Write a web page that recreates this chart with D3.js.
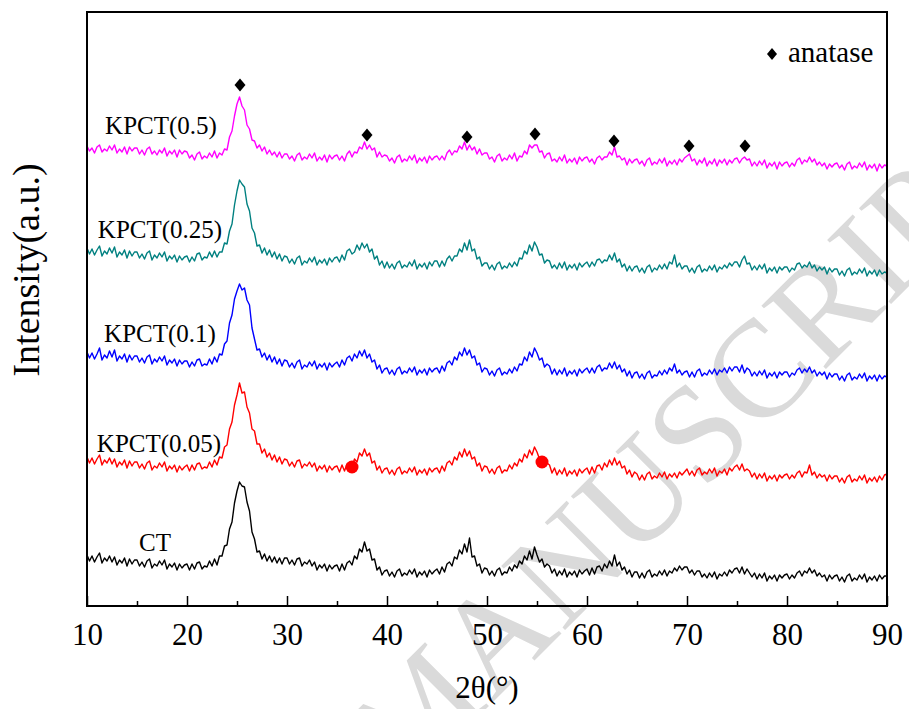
<!DOCTYPE html>
<html>
<head>
<meta charset="utf-8">
<script src="https://cdn.jsdelivr.net/npm/d3@7"></script>
<style>
  body { margin: 0; background: #fff; }
  svg { display: block; }
</style>
</head>
<body>
<svg id="chart" width="909" height="709"></svg>
<script>
// XRD patterns: intensity (a.u., stacked) sampled every 0.25 deg from 10 to 90 deg 2-theta
const twoThetaStart = 10;
const twoThetaStep = 0.25;

const ct = [
  51,45,50,44,49,53,43,48,45,50,44,49,41,46,43,48,40,47,42,46,
  46,40,44,39,45,47,38,42,40,45,41,46,37,42,39,43,36,42,38,41,
  42,36,42,37,43,44,37,40,39,45,40,47,41,50,50,60,61,77,84,103,
  115,124,120,119,104,95,74,67,54,55,47,52,45,50,44,49,43,48,42,48,
  48,42,46,41,47,48,40,44,42,46,40,44,36,41,38,42,35,41,37,40,
  41,35,42,36,43,45,41,50,47,57,54,64,55,57,46,47,36,39,31,35,
  36,30,34,29,35,37,30,33,31,36,32,37,29,34,31,35,29,36,32,35,
  37,32,39,34,42,44,40,49,47,56,52,62,54,68,49,50,40,42,33,38,
  37,31,35,30,36,38,31,34,33,39,35,41,38,45,42,50,46,55,47,59,
  51,44,47,39,42,40,33,37,30,35,31,37,29,34,31,35,29,36,32,35,
  37,31,38,32,39,40,35,42,38,45,40,51,40,44,36,39,32,36,29,34,
  34,28,33,28,34,36,29,32,30,35,31,36,30,35,33,38,35,40,36,39,
  39,33,36,31,35,35,29,32,28,33,29,34,27,32,30,34,30,36,33,37,
  38,33,39,32,37,33,29,33,27,32,28,33,25,30,27,31,25,31,28,31,
  32,27,31,28,33,35,30,35,33,38,33,36,30,33,29,31,25,31,27,30,
  31,25,29,24,30,32,25,28,26,31,27,32,24,29,26,30,25,31,27,30,
  30
];

const kpct005 = [
  149,143,148,142,147,151,141,146,143,148,142,147,139,144,141,146,138,145,140,144,
  144,138,142,137,143,145,136,140,138,143,139,144,135,140,137,141,134,140,136,139,
  141,135,141,136,142,143,137,139,138,144,139,146,141,149,148,159,161,177,184,201,
  211,223,213,214,199,193,177,175,162,162,153,157,149,153,146,151,144,149,142,147,
  146,140,144,139,145,146,138,142,140,144,139,143,135,140,137,141,134,140,136,139,
  140,134,141,135,142,143,139,147,144,153,150,157,150,153,143,145,136,140,133,137,
  138,132,136,131,137,139,132,135,133,138,134,139,131,136,133,137,131,138,134,137,
  138,133,140,135,143,145,141,149,146,154,149,157,150,155,147,149,140,143,135,140,
  139,133,137,132,138,140,133,136,135,141,137,143,140,147,144,152,148,156,151,159,
  154,147,149,140,143,141,133,138,131,136,132,138,130,135,132,136,130,137,133,136,
  138,132,139,133,140,141,136,143,139,146,141,148,141,145,138,140,132,136,129,134,
  132,126,131,126,132,134,127,130,128,133,129,134,127,132,129,133,128,134,131,134,
  137,131,135,130,136,138,131,134,132,137,133,138,130,135,133,137,131,138,135,139,
  141,136,142,135,137,135,129,133,127,132,128,133,125,130,127,131,125,131,128,131,
  132,127,131,128,133,135,129,134,133,141,131,134,128,132,129,131,125,131,127,130,
  130,124,128,123,129,131,124,127,125,130,126,131,123,128,125,129,124,130,126,131,
  132
];

const kpct01 = [
  254,248,253,247,252,258,246,251,248,255,249,256,245,250,247,252,244,251,246,250,
  250,244,248,243,249,251,242,247,244,249,245,250,241,246,243,247,240,246,242,245,
  245,239,244,240,246,247,240,242,241,247,242,249,244,252,251,262,265,283,291,307,
  315,322,316,318,306,301,278,267,256,257,249,253,246,251,244,249,242,247,240,246,
  245,239,243,238,244,246,237,241,239,244,240,245,237,242,239,243,236,243,239,242,
  244,239,246,241,248,250,245,252,248,255,250,256,248,252,244,246,237,241,233,237,
  238,232,236,231,237,239,232,235,233,238,234,239,231,236,233,237,231,238,234,237,
  238,233,240,235,243,245,241,249,246,254,250,258,251,256,248,250,241,243,234,238,
  237,231,235,230,236,238,231,234,232,237,233,239,235,242,241,249,245,254,249,258,
  253,246,248,239,242,240,232,237,231,236,232,238,230,235,232,236,230,237,233,236,
  238,233,238,233,239,241,235,238,237,243,238,244,237,241,234,237,230,235,228,233,
  234,228,232,227,233,235,228,231,230,235,231,236,232,238,235,242,233,236,231,234,
  235,229,234,229,235,237,230,233,231,236,232,237,231,236,234,238,233,239,235,239,
  239,234,241,233,238,236,230,234,230,235,231,236,228,233,230,234,228,234,231,234,
  234,229,233,231,236,238,233,237,234,239,233,236,230,234,231,234,227,233,229,232,
  232,226,230,225,231,233,226,229,227,232,228,233,225,230,227,231,225,231,227,230,
  229
];

const kpct025 = [
  358,352,357,351,356,360,350,355,352,358,353,359,349,354,351,356,348,355,350,354,
  354,348,352,347,353,355,346,351,348,353,349,354,345,350,347,351,344,350,346,349,
  350,344,349,345,352,353,346,349,348,354,349,355,349,354,354,363,362,375,382,401,
  415,426,422,419,402,395,378,373,360,361,353,358,351,356,349,354,347,352,345,350,
  349,343,347,342,348,350,341,345,343,348,344,349,341,346,343,347,341,348,344,348,
  349,344,351,346,355,357,352,354,361,356,363,358,362,354,357,347,350,341,345,338,
  344,338,342,337,343,345,338,341,339,344,340,346,337,342,339,343,337,344,340,345,
  345,339,345,340,347,350,345,350,350,357,354,363,356,366,355,357,347,349,340,343,
  343,337,341,336,342,344,337,340,338,343,339,344,340,348,347,355,352,361,355,364,
  359,351,352,343,346,345,338,341,337,343,338,344,336,341,338,342,336,343,339,342,
  344,339,344,340,346,347,343,346,345,351,346,353,344,347,339,342,335,340,335,339,
  340,334,338,333,339,341,334,338,336,341,337,342,337,344,342,351,339,343,337,340,
  340,334,338,333,339,341,334,337,335,340,336,341,334,339,337,341,338,343,340,344,
  344,339,346,350,342,343,336,340,336,341,337,342,333,338,335,339,333,339,336,339,
  339,334,338,336,342,343,338,341,339,344,338,341,335,339,336,339,332,338,334,337,
  337,331,335,330,336,338,331,334,332,337,333,338,330,335,332,336,330,336,332,334,
  333
];

const kpct05 = [
  460,455,458,453,459,461,454,457,455,460,456,461,453,457,454,459,452,459,455,458,
  458,452,456,451,457,459,452,455,451,456,453,458,450,455,452,456,449,456,452,455,
  454,448,451,446,452,454,447,450,448,453,449,455,448,453,451,457,456,469,475,490,
  502,509,500,496,481,477,466,465,458,461,455,459,452,456,451,454,449,454,448,452,
  452,447,450,445,451,453,446,449,447,452,448,453,445,449,446,451,444,451,447,450,
  451,446,450,445,452,455,449,454,453,459,457,464,457,461,456,458,449,454,449,451,
  450,445,448,443,449,451,444,447,445,450,446,451,443,448,445,449,443,450,446,449,
  450,446,450,446,453,456,451,455,454,460,457,464,456,461,456,459,452,457,451,453,
  453,447,449,444,450,452,445,448,446,451,447,453,445,450,449,455,452,461,458,461,
  461,454,455,448,452,453,445,447,444,449,445,451,443,447,444,448,442,449,445,448,
  449,444,447,442,448,450,446,449,449,454,451,459,449,450,446,448,441,447,443,446,
  447,442,445,440,446,448,441,444,442,447,443,448,440,445,442,446,441,447,444,448,
  450,452,445,447,441,446,443,448,440,445,442,447,440,446,443,447,441,446,443,447,
  448,443,447,449,446,447,440,444,440,445,441,446,438,443,440,444,437,444,440,443,
  444,439,443,440,446,448,442,446,444,449,444,447,441,444,440,443,437,442,439,442,
  443,438,441,436,442,444,437,440,438,443,439,444,436,441,438,442,435,442,438,441,
  440
];

const seriesNames = ["CT", "KPCT(0.05)", "KPCT(0.1)", "KPCT(0.25)", "KPCT(0.5)"];
const seriesValues = [ct, kpct005, kpct01, kpct025, kpct05];
const seriesColors = ["#000000", "#ff0000", "#0000ff", "#008080", "#ff00ff"];

const xTicks = [10, 20, 30, 40, 50, 60, 70, 80, 90];
const xMinorTicks = [15, 25, 35, 45, 55, 65, 75, 85];

// anatase reflections marked above the KPCT(0.5) pattern
const anataseAngles = [25.3, 38.0, 48.0, 54.8, 62.7, 70.2, 75.8];
const anataseLevels = [521, 471, 469, 472, 465, 460, 460];

// filled circles marked on the KPCT(0.05) pattern
const dotAngles = [36.5, 55.5];
const dotLevels = [139, 144];

const FONT = "'Liberation Serif', 'Times New Roman', Times, serif";

const svg = d3.select("#chart");
const plot = { left: 87, right: 887, top: 12, bottom: 606 };

const x = d3.scaleLinear().domain([10, 90]).range([plot.left, plot.right]);
const y = d3.scaleLinear().domain([0, 594]).range([plot.bottom, plot.top]);

// diagonal watermark
const wm = svg.append("text")
  .attr("font-family", FONT)
  .attr("font-size", 138)
  .attr("fill", "#dadada")
  .text("ACCEPTED MANUSCRIPT");
const prefix = wm.node().getSubStringLength(0, 9);
wm.attr("x", -prefix).attr("transform", "translate(405,790) rotate(-45)");

// patterns
const line = d3.line()
  .x((d, i) => x(twoThetaStart + i * twoThetaStep))
  .y(d => y(d));

svg.append("g")
  .selectAll("path")
  .data(seriesValues)
  .join("path")
  .attr("d", d => line(d))
  .attr("fill", "none")
  .attr("stroke", (d, i) => seriesColors[i])
  .attr("stroke-width", 1.4)
  .attr("stroke-linejoin", "round");

// circle markers
svg.append("g")
  .selectAll("circle")
  .data(dotAngles)
  .join("circle")
  .attr("cx", d => x(d))
  .attr("cy", (d, i) => y(dotLevels[i]))
  .attr("r", 6.5)
  .attr("fill", "#ff0000");

// diamond markers
const diamond = "M0,-6.5L5.5,0L0,6.5L-5.5,0Z";
svg.append("g")
  .selectAll("path")
  .data(anataseAngles)
  .join("path")
  .attr("transform", (d, i) => `translate(${x(d)},${y(anataseLevels[i])})`)
  .attr("d", diamond)
  .attr("fill", "#000");

// series labels
const labelPos = [[155, 551], [159, 452], [160, 342], [160, 238], [161, 134]];
svg.append("g")
  .selectAll("text")
  .data(seriesNames)
  .join("text")
  .attr("x", (d, i) => labelPos[i][0])
  .attr("y", (d, i) => labelPos[i][1])
  .attr("text-anchor", "middle")
  .attr("font-family", FONT)
  .attr("font-size", 25)
  .attr("fill", "#000")
  .text(d => d);

// legend
const legend = svg.append("g").attr("transform", "translate(772,54)");
legend.append("path").attr("d", "M0,-6L5,0L0,6L-5,0Z").attr("fill", "#000");
legend.append("text")
  .attr("x", 16).attr("y", 8)
  .attr("font-family", FONT)
  .attr("font-size", 29)
  .text("anatase");

// x axis: ticks point inward
const xAxis = svg.append("g")
  .attr("transform", `translate(0,${plot.bottom})`)
  .call(d3.axisBottom(x).tickValues(xTicks).tickSize(-10).tickPadding(17).tickFormat(d3.format("d")));
xAxis.select(".domain").remove();
xAxis.selectAll("line").attr("stroke", "#000").attr("stroke-width", 1.5);
xAxis.selectAll("text")
  .attr("font-family", FONT)
  .attr("font-size", 31)
  .attr("fill", "#000");

const xMinor = svg.append("g")
  .attr("transform", `translate(0,${plot.bottom})`)
  .call(d3.axisBottom(x).tickValues(xMinorTicks).tickSize(-5).tickFormat(""));
xMinor.select(".domain").remove();
xMinor.selectAll("line").attr("stroke", "#000").attr("stroke-width", 1.5);

// frame
svg.append("rect")
  .attr("x", plot.left).attr("y", plot.top)
  .attr("width", plot.right - plot.left).attr("height", plot.bottom - plot.top)
  .attr("fill", "none").attr("stroke", "#000").attr("stroke-width", 2);

// axis titles
svg.append("text")
  .attr("x", (plot.left + plot.right) / 2).attr("y", 698)
  .attr("text-anchor", "middle")
  .attr("font-family", FONT)
  .attr("font-size", 31)
  .text("2θ(°)");

svg.append("text")
  .attr("transform", "translate(39,270) rotate(-90)")
  .attr("text-anchor", "middle")
  .attr("font-family", FONT)
  .attr("font-size", 38)
  .text("Intensity(a.u.)");
</script>
</body>
</html>
